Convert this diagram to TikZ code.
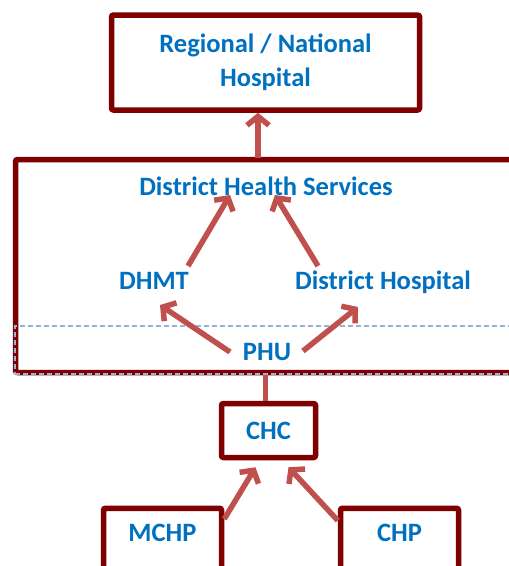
\documentclass[tikz,border=0pt]{standalone}
\usepackage{fontspec}
\setmainfont{Carlito}
\usetikzlibrary{arrows.meta}
\definecolor{boxred}{HTML}{7F0000}
\definecolor{arrowred}{HTML}{C0504D}
\definecolor{textblue}{HTML}{0070C0}
\definecolor{dashblue}{HTML}{95B3D7}
\begin{document}
\begin{tikzpicture}[x=1pt, y=-1pt, every node/.style={font=\bfseries\fontsize{26.5}{34}\selectfont, text=textblue, align=center, inner sep=0pt},
    unit/.style={draw=boxred, line width=5.5pt, rounded corners=2pt, fill=white},
    tag/.style={text height=17pt, text depth=0pt},
    band/.style={draw=dashblue, line width=1.3pt, dash pattern=on 5pt off 3pt},
    flow/.style={draw=arrowred, line width=5.5pt, -{Straight Barb[length=9pt, width=22pt]}},
    link/.style={draw=arrowred, line width=5.5pt}]
      \useasboundingbox (0,0) rectangle (509,566);
      \clip (0,0) rectangle (509,566);

      % Boxes
      \node[unit, minimum width=308, minimum height=95] (regional) at (265.5, 62.5) {Regional / National\\Hospital};
      \node[unit, minimum width=545, minimum height=213] (district) at (288, 266) {};
      \node[band, minimum width=545, minimum height=48] (phuband) at (287.5, 350) {};
      \node[unit, tag, minimum width=94, minimum height=54] (chc) at (268.5, 430.5) {CHC};
      \node[unit, minimum width=118, minimum height=120, anchor=north] (mchp) at (162.5, 505.5) {};
      \node[unit, minimum width=118, minimum height=120, anchor=north] (chp) at (399.5, 505.5) {};

      % Labels
      \node[tag] (dhs) at (266, 187) {District Health Services};
      \node[tag] (dhmt) at (154, 281) {DHMT};
      \node[tag] (dhosp) at (383, 281) {District Hospital};
      \node[tag] (phu) at (267, 352) {PHU};
      \node[tag] (mchptext) at ([yshift=-27.5pt]mchp.north) {MCHP};
      \node[tag] (chptext) at ([yshift=-27.5pt]chp.north) {CHP};

      % Edges
      \coordinate (dtop) at (258, 158);
      \draw[flow] (dtop) -- (dtop |- regional.south);
      \draw[flow] ([shift={(34,-15)}]dhmt.center) -- ([shift={(-36,8)}]dhs.center);
      \draw[flow] ([shift={(-65,-15)}]dhosp.center) -- ([shift={(9,8)}]dhs.center);
      \draw[flow] ([shift={(-37,0)}]phu.center) -- ([shift={(6,24)}]dhmt.center);
      \draw[flow] ([shift={(36,-1)}]phu.center) -- ([shift={(-25,26)}]dhosp.center);
      \draw[link] ([xshift=-3pt]chc.north) -- ([xshift=-3pt]chc.north |- district.south);
      \draw[flow] ([yshift=-13.5pt]mchp.north east) -- ([shift={(-13,7)}]chc.south);
      \draw[flow] ([yshift=-15pt]chp.north west) -- ([shift={(20,7)}]chc.south);
    \end{tikzpicture}
\end{document}
